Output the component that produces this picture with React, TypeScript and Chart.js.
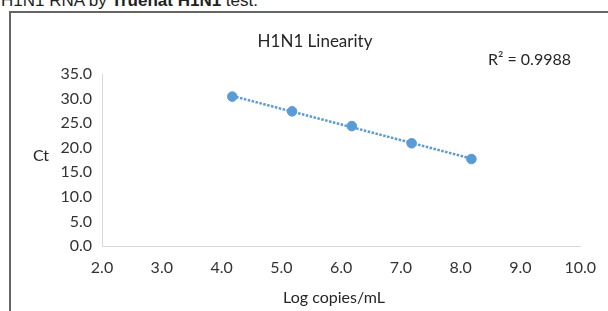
import React, { useEffect, useRef } from "react";
import { Chart, registerables } from "chart.js";

Chart.register(...registerables);

const logCopies = [4.18, 5.18, 6.18, 7.18, 8.18];
const ctValues = [30.4, 27.4, 24.4, 20.9, 17.7];
const chartTitle = "H1N1 Linearity";
const r2Label = "R\u00B2 = 0.9988";
const xTitle = "Log copies/mL";
const yTitle = "Ct";

const FONT = "Lato, 'Open Sans', sans-serif";
const BLUE = "#5B9BD5";

function fitLine(xs: number[], ys: number[]) {
  const n = xs.length;
  const mx = xs.reduce((a, b) => a + b, 0) / n;
  const my = ys.reduce((a, b) => a + b, 0) / n;
  let sxy = 0, sxx = 0;
  for (let i = 0; i < n; i++) {
    sxy += (xs[i] - mx) * (ys[i] - my);
    sxx += (xs[i] - mx) * (xs[i] - mx);
  }
  const slope = sxy / sxx;
  const icpt = my - slope * mx;
  const x0 = Math.min(...xs);
  const x1 = Math.max(...xs);
  return [
    { x: x0, y: slope * x0 + icpt },
    { x: x1, y: slope * x1 + icpt },
  ];
}

const textPlugin = {
  id: "texts",
  afterDraw(chart: any) {
    const ctx = chart.ctx;
    ctx.save();
    ctx.fillStyle = "#262626";
    ctx.textBaseline = "middle";
    ctx.textAlign = "center";
    ctx.font = `17px ${FONT}`;
    ctx.fillText(chartTitle, 315, 42);
    ctx.font = `16px ${FONT}`;
    ctx.fillText(yTitle, 41, 156);
    ctx.fillText(xTitle, 334, 298);
    ctx.textAlign = "left";
    ctx.fillText(r2Label, 488, 60);
    ctx.restore();
  },
};

export default function App() {
  const ref = useRef<HTMLCanvasElement | null>(null);
  useEffect(() => {
    if (!ref.current) return;
    const chart = new Chart(ref.current, {
      type: "scatter",
      data: {
        datasets: [
          {
            label: "Ct",
            data: logCopies.map((x, i) => ({ x, y: ctValues[i] })),
            backgroundColor: BLUE,
            borderColor: BLUE,
            pointRadius: 4.8,
            order: 0,
          },
          {
            label: "Trend",
            type: "line",
            data: fitLine(logCopies, ctValues),
            borderColor: BLUE,
            borderWidth: 2.5,
            borderDash: [2.5, 1.5],
            pointRadius: 0,
            fill: false,
            order: 1,
          } as any,
        ],
      },
      options: {
        animation: false,
        responsive: false,
        maintainAspectRatio: false,
        layout: { padding: { left: 0, top: 74, right: 25, bottom: 0 } },
        plugins: { legend: { display: false }, tooltip: { enabled: false }, title: { display: false } },
        scales: {
          x: {
            type: "linear",
            min: 2,
            max: 10,
            ticks: {
              stepSize: 1,
              padding: 12,
              color: "#333333",
              font: { family: FONT, size: 16 },
              callback: (v: any) => Number(v).toFixed(1),
            },
            grid: { display: false, drawTicks: false },
            border: { display: true, color: "#d9d9d9", width: 1 },
            afterFit: (s: any) => { s.height = 65; },
          },
          y: {
            type: "linear",
            min: 0,
            max: 35,
            ticks: {
              stepSize: 5,
              padding: 10,
              color: "#333333",
              font: { family: FONT, size: 16 },
              callback: (v: any) => Number(v).toFixed(1),
            },
            grid: { display: false, drawTicks: false },
            border: { display: true, color: "#d9d9d9", width: 1 },
            afterFit: (s: any) => { s.width = 102; },
          },
        },
      },
      plugins: [textPlugin],
    });
    return () => chart.destroy();
  }, []);

  return (
    <div style={{ position: "fixed", left: 0, top: 0, width: 608, height: 311, background: "#fff", overflow: "hidden" }}>
      <div
        style={{
          position: "absolute",
          right: 350,
          top: -8,
          whiteSpace: "nowrap",
          fontFamily: "'Liberation Sans', Arial, sans-serif",
          fontSize: 17,
          lineHeight: "17px",
          color: "#222",
        }}
      >
        H1N1 RNA by <b>Truenat H1N1</b> test.
      </div>
      <div
        style={{
          position: "absolute",
          left: 9,
          top: 11,
          width: 620,
          height: 400,
          borderTop: "2px solid #666",
          borderLeft: "2px solid #666",
        }}
      />
      <canvas ref={ref} width={608} height={311} style={{ position: "absolute", left: 0, top: 0, width: 608, height: 311 }} />
    </div>
  );
}
